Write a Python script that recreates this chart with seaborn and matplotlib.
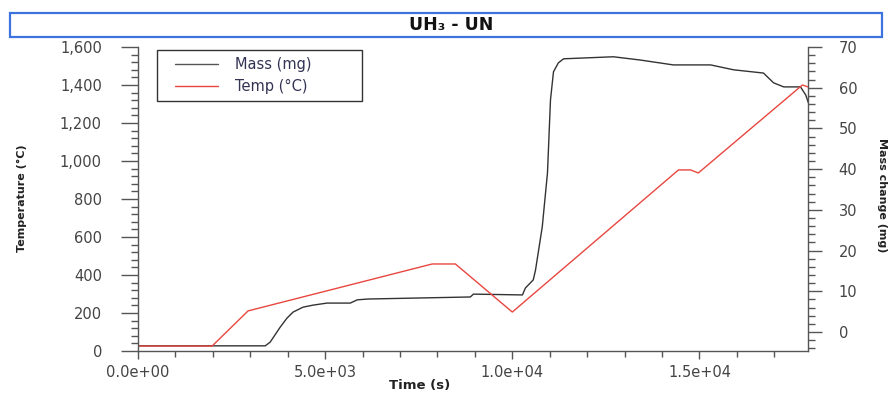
import numpy as np
import pandas as pd
import matplotlib
matplotlib.use("Agg")
import matplotlib.pyplot as plt
import seaborn as sns
from matplotlib.ticker import MultipleLocator, FuncFormatter
from matplotlib.patches import Rectangle
from matplotlib.legend_handler import HandlerLine2D
from matplotlib.lines import Line2D

# Temperature program (s, °C)
temp_time = [0, 1980, 2940, 7860, 8480, 10000, 14440, 14760, 14970, 17750, 17900]
temp_vals = [26, 26, 211, 458, 458, 205, 953, 953, 937, 1400, 1390]

# Mass change (s, mg)
mass_time = [0, 3400, 3530, 3800, 3980, 4145, 4410, 4680, 5050, 5670, 5860, 6150,
             8880, 8960, 10270, 10350, 10560, 10620, 10800, 10940, 11020, 11100,
             11230, 11370, 12700, 13420, 14300, 15300, 15910, 16710, 16980, 17250,
             17700, 17840, 17910]
mass_vals = [-3.4, -3.4, -2.5, 1.2, 3.4, 4.9, 6.1, 6.6, 7.1, 7.1, 7.9, 8.1,
             8.6, 9.3, 9.1, 10.8, 12.8, 15.2, 25.8, 39.1, 57.0, 63.9,
             66.1, 67.1, 67.6, 66.8, 65.6, 65.6, 64.4, 63.6, 61.2, 60.2,
             60.2, 58.2, 56.3]

title_text = "UH\u2083 - UN"
x_label = "Time (s)"
left_label = "Temperature (\u00b0C)"
right_label = "Mass change (mg)"
mass_name = "Mass (mg)"
temp_name = "Temp (\u00b0C)"

temp_df = pd.DataFrame({"t": temp_time, "v": temp_vals})
mass_df = pd.DataFrame({"t": mass_time, "v": mass_vals})

sns.set_style("ticks")
plt.rcParams["font.family"] = ["DejaVu Sans"]

W, H = 896, 395
fig = plt.figure(figsize=(W / 100, H / 100), dpi=100)
ax = fig.add_axes([138 / W, 1 - 351 / H, (808 - 138) / W, (351 - 47) / H])
ax2 = ax.twinx()

red = "#e8473f"
dark = "#333333"

sns.lineplot(data=temp_df, x="t", y="v", ax=ax, color=red, lw=1.0,
             estimator=None, sort=False, legend=False)
sns.lineplot(data=mass_df, x="t", y="v", ax=ax2, color=dark, lw=1.0,
             estimator=None, sort=False, legend=False)

ax.set_xlim(0, 17900)
ax.set_ylim(0, 1600)

for a in (ax, ax2):
    a.spines["top"].set_visible(False)
    for s in a.spines.values():
        s.set_color("#555555")
        s.set_linewidth(1.0)
ax.spines["right"].set_visible(False)
ax2.spines["left"].set_visible(False)
ax2.spines["bottom"].set_visible(False)

ax.xaxis.set_major_locator(MultipleLocator(5000))
ax.xaxis.set_minor_locator(MultipleLocator(1000))
ax.yaxis.set_major_locator(MultipleLocator(200))
ax.yaxis.set_minor_locator(MultipleLocator(40))
ax2.yaxis.set_major_locator(MultipleLocator(10))
ax2.yaxis.set_minor_locator(MultipleLocator(2))
ax2.set_ylim(-4.67, 70)

ax.xaxis.set_major_formatter(FuncFormatter(lambda v, p: f"{v:.1e}"))
ax.yaxis.set_major_formatter(FuncFormatter(lambda v, p: f"{v:,.0f}"))
ax2.yaxis.set_major_formatter(FuncFormatter(lambda v, p: f"{v:.0f}"))

tick_col = "#555555"
lab_col = "#444444"
tick_fs = 10.5
ax.tick_params(axis="x", which="major", length=6, width=1, color=tick_col,
               labelsize=tick_fs, labelcolor=lab_col, pad=4)
ax.tick_params(axis="x", which="minor", length=4, width=1, color=tick_col)
ax.tick_params(axis="y", which="major", length=12, width=1, color=tick_col,
               labelsize=tick_fs, labelcolor=lab_col, pad=14)
ax.tick_params(axis="y", which="minor", length=5, width=1, color=tick_col)
ax2.tick_params(axis="y", which="major", length=10, width=1, color=tick_col,
                labelsize=tick_fs, labelcolor=lab_col, pad=12)
ax2.tick_params(axis="y", which="minor", length=5, width=1, color=tick_col)

ax.set_xlabel("")
ax.set_ylabel("")
ax2.set_ylabel("")

fig.text(420 / W, 1 - 385 / H, x_label, ha="center", va="center",
         fontsize=9.5, fontweight="bold", color="#222222")
fig.text(22 / W, 1 - 198 / H, left_label, ha="center", va="center",
         rotation=90, fontsize=8, fontweight="bold", color="#222222")
fig.text(882 / W, 1 - 195 / H, right_label, ha="center", va="center",
         rotation=270, fontsize=8, fontweight="bold", color="#222222")

# Title banner
fig.patches.append(Rectangle((10 / W, 1 - 37 / H), (882 - 10) / W, 24 / H,
                             transform=fig.transFigure, facecolor="white",
                             edgecolor="#3d73dd", linewidth=1.6))
fig.text(451 / W, 1 - 25 / H, title_text, ha="center", va="center",
         fontsize=12.5, fontweight="bold", color="#111111")

# Legend: Mass first, then Temp
handles = [Line2D([], [], color="#555555", lw=1.0),
           Line2D([], [], color=red, lw=1.0)]
leg_fs = 10.5
leg = ax.legend(handles, [mass_name, temp_name], loc="upper left",
                bbox_to_anchor=(19 / 670, 0.8, 205 / 670, 0.19),
                mode="expand", borderaxespad=0, fontsize=leg_fs,
                handlelength=3.7, handletextpad=1.15, labelspacing=0.45,
                borderpad=0.5, fancybox=False, framealpha=1,
                edgecolor="#333333",
                handler_map={Line2D: HandlerLine2D(xpad=0.75)})
leg.get_frame().set_linewidth(1.0)
for t in leg.get_texts():
    t.set_color("#333355")
ax.set_zorder(ax2.get_zorder() + 1)
ax.patch.set_visible(False)

fig.savefig("out.png", dpi=100)
